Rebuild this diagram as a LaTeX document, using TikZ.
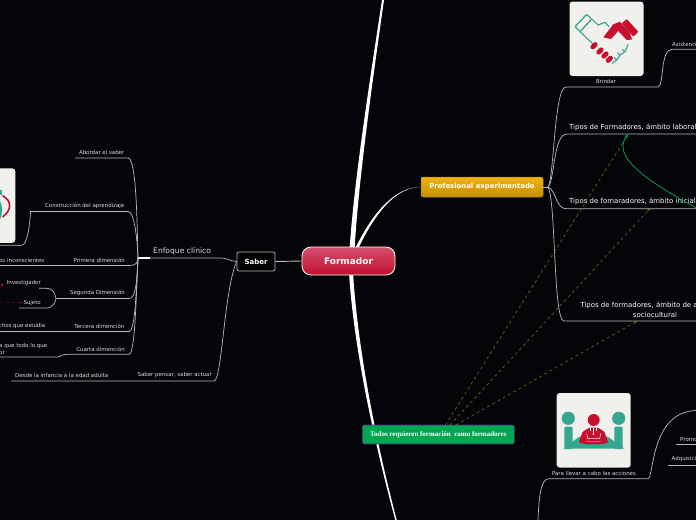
\documentclass[tikz,border=0pt]{standalone}
\usepackage{fontspec}
\setmainfont{DejaVu Sans}
\newfontfamily\seriffont{Liberation Serif}
\usetikzlibrary{arrows.meta}
\definecolor{bgc}{HTML}{030508}
\definecolor{linec}{HTML}{BABABA}
\definecolor{txtc}{HTML}{DCDCDC}
\definecolor{tealc}{HTML}{35A68F}
\definecolor{redc}{HTML}{C8102E}
\definecolor{cardc}{HTML}{F0F0EC}
\definecolor{olivec}{HTML}{6E6E22}
\definecolor{greenc}{HTML}{0B8A4E}
\definecolor{fmtop}{HTML}{D6506E}
\definecolor{fmbot}{HTML}{BE102E}
\definecolor{goldtop}{HTML}{F2B214}
\definecolor{goldbot}{HTML}{C48E00}
\definecolor{goldline}{HTML}{AA8C14}
\definecolor{trgreen}{HTML}{00A651}
\definecolor{trline}{HTML}{642882}
\tikzset{
  x=1pt,y=-1pt,
  small/.style={inner sep=0pt,text=txtc,font=\fontsize{5.45}{7}\selectfont},
  big/.style={inner sep=0pt,text=white,font=\fontsize{6.95}{10}\selectfont},
  conn/.style={draw=linec,line width=0.7pt},
  link/.style={draw=olivec,line width=0.6pt,dash pattern=on 3pt off 3pt,-{Stealth[length=3pt,width=3pt]}},
  card/.style={draw=none,fill=cardc,rounded corners=3pt,minimum width=74pt,minimum height=74.5pt,inner sep=0pt},
  finger/.style={draw=redc,line width=4.8pt,line cap=round},
  handline/.style={draw=tealc,line width=1.1pt,line join=round},
}
\begin{document}
\begin{tikzpicture}
\useasboundingbox (0,0) rectangle (696,520);
\clip (0,0) rectangle (696,520);
\fill[bgc] (0,0) rectangle (696,520);

% trunks (tapered, under the nodes)
\coordinate (tup) at (383,0);
\coordinate (tdn) at (396,520);
\fill[white] (349.5,250) .. controls (353.8,185) and (367.5,95) .. (382,0) -- (384,0) .. controls (370.5,95) and (358.2,185) .. (354.5,250) -- cycle;
\fill[white] (349,272) .. controls (353,340) and (371,430) .. (395.3,520) -- (396.7,520) .. controls (373,430) and (357,340) .. (353,272) -- cycle;
\coordinate (pew) at (421,187);
\fill[white] (354.5,250) .. controls (372,213) and (395,186.7) .. (pew) .. controls (395,187.3) and (374.5,214) .. (357.5,250) -- cycle;

% main nodes
\node[rounded corners=9pt,draw=white,line width=0.8pt,top color=fmtop,bottom color=fmbot,minimum width=93pt,minimum height=28pt,inner sep=0pt,text=white,font=\bfseries\fontsize{9}{11}\selectfont] (fm) at (348.5,261) {Formador};
\node[rounded corners=2pt,draw=linec,line width=0.7pt,fill=black,minimum width=38pt,minimum height=19pt,inner sep=0pt,text=white,font=\bfseries\fontsize{7}{8}\selectfont] (sb) at (256,261.5) {Saber};
\node[rounded corners=2pt,draw=goldline,line width=0.5pt,top color=goldtop,bottom color=goldbot,minimum width=122pt,minimum height=20pt,inner sep=0pt,text=white,font=\bfseries\fontsize{6.9}{8}\selectfont] (pe) at (482,187) {Profesional experimentado};
\node[rounded corners=2pt,draw=trline,line width=0.6pt,fill=trgreen,minimum width=152pt,minimum height=19pt,inner sep=0pt,text=white,font=\seriffont\bfseries\fontsize{7}{8}\selectfont] (tr) at (438.3,434.5) {Todos requieren formación\ \ como formadores};
\draw[draw=linec,line width=0.9pt] (sb.east) -- (fm.west);

% Left side text
\node[big,anchor=west,font=\fontsize{7.6}{9}\selectfont,text=txtc] (ec) at (153,251.5) {Enfoque clínico};
\node[small,anchor=east] (a1) at (124.5,152) {Abordar el saber};
\node[small,anchor=east] (a2) at (124.5,206) {Construcción del aprendizaje};
\node[small,anchor=east] (a3) at (125,260) {Primera dimensión};
\node[small,anchor=east] (a3b) at (44.5,260) {Procesos inconscientes};
\node[small,anchor=east] (a4) at (125,293) {Segunda Dimensión};
\node[small,anchor=east] (a4a) at (41,283) {Investigador};
\node[small,anchor=east] (a4b) at (41,302.5) {Sujeto};
\node[small,anchor=east] (a5) at (124.5,326) {Tercera dimención};
\node[small,anchor=east] (a5b) at (45.5,326) {Hechos que estudia};
\node[small,anchor=east] (a6) at (125,349) {Cuarta dimención};
\node[small,anchor=west,align=left] (a6b) at (-1,348.5) {a que todo lo que\\or};
\node[small,anchor=east] (a7) at (212,375) {Saber pensar, saber actuar};
\node[small,anchor=west] (a7b) at (15,375) {Desde la infancia a la edad adulta};

% Left side connectors
\coordinate (hub) at (138,258);
\coordinate (ecr) at (220,258);
\coordinate (ecm) at (150,258);
\draw[conn,line width=0.7pt] (ecm) -- (ecr) .. controls (228,258) and (231,261.5) .. (sb.west);
\draw[draw=white,line width=1.2pt] (hub) -- (ecm);
\coordinate (l1) at (75,158);
\draw[conn] (l1) -- (128,158) .. controls (136,158) and (137,215) .. (hub);
\coordinate (imgline) at (0,245.2);
\draw[conn] (imgline) -- (22,245.2) .. controls (27,245.2) and (30,225) .. (30.5,211.5) -- (128,211.5) .. controls (134,211.5) and (137,235) .. (hub);
\coordinate (l3) at (0,265.5);
\draw[conn] (l3) -- (130,265.5) .. controls (136,265.5) and (138,262) .. (hub);
\coordinate (b4) at (56,298.5);
\draw[conn] (b4) -- (129,298.5) .. controls (135,298.5) and (137,285) .. (hub);
\coordinate (l4a) at (39,288.3);
\coordinate (l4b) at (19,308);
\draw[conn] (l4a) -- (46,288.3) .. controls (53,288.3) and (55,293) .. (b4);
\draw[conn] (l4b) -- (46,308) .. controls (53,308) and (55,303) .. (b4);
\coordinate (l5) at (0,331.5);
\draw[conn] (l5) -- (129,331.5) .. controls (135,331.5) and (136,295) .. (hub);
\coordinate (l6) at (0,357);
\draw[conn] (l6) -- (58,357) .. controls (62,357) and (60,354.3) .. (68,354.3) -- (129,354.3) .. controls (135,354.3) and (136,300) .. (hub);
\coordinate (l7) at (11,381);
\draw[conn] (l7) -- (214,381) .. controls (222,381) and (224,290) .. (sb.west);

% red links
\coordinate (rs) at (0,302);
\draw[draw=redc!65!black,line width=0.5pt,dash pattern=on 3pt off 3pt,-{Stealth[length=2.5pt,width=2.5pt]}] (rs) -- (a4b.west);
\fill[redc] (1.2,284.3) rectangle (3,286);

% left card
\node[card,anchor=east] (cardL) at (15.5,205.5) {};
\draw[redc,line width=1.6pt] (2.5,195.5) .. controls (12,201) and (12,210) .. (2.5,217);
\fill[tealc] (0,190) rectangle (1.5,195);
\fill[tealc] (0,201) .. controls (3,206) and (2.5,214) .. (0,220) -- cycle;

% right: Profesional branches
\node[card] (c1) at (606.5,38.8) {};
\node[small,anchor=center] (br) at (606,81) {Brindar};
\node[small,anchor=west] (as) at (672,44) {Asistencia};
\node[big,anchor=west] (t1) at (569,127.7) {Tipos de Formadores, ámbito laboral};
\node[big,anchor=west] (t2) at (569,201.7) {Tipos de fomaradores, ámbito inicial};
\node[big,align=center] (t3) at (655,310) {Tipos de formadores, ámbito de animación\\sociocultural};

\coordinate (hr) at (548,187);
\coordinate (r1) at (696,49.3);
\coordinate (r2) at (696,134);
\coordinate (r3) at (696,208.7);
\coordinate (r4) at (696,321);
\draw[conn] (pe.east) -- (hr);
\draw[conn] (hr) .. controls (554,180) and (554,87) .. (566,87) -- (658,87) .. controls (664,87) and (660,49.3) .. (672,49.3) -- (r1);
\draw[conn] (hr) .. controls (555,180) and (553,134) .. (567,134) -- (r2);
\draw[conn] (hr) .. controls (556,190) and (556,208.7) .. (566,208.7) -- (r3);
\draw[conn] (hr) .. controls (556,200) and (553,321) .. (564,321) -- (r4);

% handshake icon
\draw[handline,line width=1.3pt,rounded corners=1pt] (580,31.7) -- (575,26.7) -- (586.7,14.3) -- (591.7,19) -- cycle;
\draw[handline] (591.7,19) -- (598.3,25) -- (605,22.3) -- (609,26.7);
\draw[handline] (580,31.7) -- (593.3,44.3);
\draw[handline] (628.3,44.3) -- (625,51.7) -- (622,49.5) (625,51.7) -- (620,55) -- (617.5,52.5) (620,55) -- (616.7,60) -- (614,57.5) (616.7,60) -- (611.7,63.3);
\fill[redc,rounded corners=0.8pt] (621.7,23.3) -- (626.7,19) -- (638.3,31.7) -- (633.3,36.7) -- cycle;
\fill[redc,line join=round] (603.3,37.3) -- (613.3,24.3) -- (620,21.7) -- (630,33) -- (632,39.5) -- (626.7,40) -- (618.3,31) -- (611,39) -- cycle;
\draw[finger] (592.8,46.9) -- (595.2,44.5);
\draw[finger] (598.8,52.2) -- (601.2,49.8);
\draw[finger] (603.8,56.2) -- (606.2,53.8);
\draw[finger] (608.1,60.5) -- (610.5,58.1);

% right-bottom card
\node[card] (c2) at (593.7,430.3) {};
\node[small] (pl) at (594,473.3) {Para llevar a cabo las acciones};
\node[small,anchor=west] (pr) at (680,439) {Promoción};
\node[small,anchor=west] (ad) at (671.5,459.2) {Adquisición};
\coordinate (pru) at (675.5,444.7);
\coordinate (adu) at (667.5,465);
\coordinate (pre) at (696,444.7);
\coordinate (ade) at (696,465);
\coordinate (be) at (538,520);
\coordinate (bt) at (696,410.5);
\draw[conn] (pru) -- (pre);
\draw[conn] (adu) -- (ade);
\draw[conn] (be) .. controls (539,495) and (541,478.7) .. (549,478.7) -- (648,478.7) .. controls (654,478.7) and (650,412) .. (bt);

% people icon
\fill[tealc] (568.3,418.3) circle (6.6pt);
\fill[tealc] (618.7,418.3) circle (6.6pt);
\fill[tealc,rounded corners=1pt] (564.3,426.7) rectangle (572.7,449);
\fill[tealc,rounded corners=1pt] (614.3,426.7) rectangle (622.7,449);
\fill[tealc] (563.3,448.5) -- (579.3,436.7) -- (607.7,436.7) -- (624.3,448.5) -- cycle;
\fill[redc] (593.7,420) circle (6pt);
\fill[redc,rounded corners=1pt] (578.7,442.5) -- (582.7,431.7) -- (589.3,427.7) -- (598,427.7) -- (604.3,431.7) -- (608.3,442.5) -- (601,444.3) -- (586,444.3) -- cycle;
\draw[white,line width=0.5pt] (593.7,428) -- (593.7,435) (590.7,428) -- (590.7,431) (596.7,428) -- (596.7,431);
\draw[white,line width=0.5pt] (586.7,433.5) -- (587.7,438.5) -- (599.7,438.5) -- (600.7,433.5);
\fill[tealc] (586,441) rectangle (601,442);

% cross links
\coordinate (tt1) at (628,134.5);
\coordinate (tt2) at (650,208.5);
\coordinate (tt3) at (637,321);
\coordinate (gs) at (696,207.7);
\coordinate (tr1) at (445.5,425);
\coordinate (tr2) at (450,425);
\coordinate (tr3) at (456,425);
\draw[link] (tr1) -- (tt1);
\draw[link] (tr2) -- (tt2);
\draw[link] (tr3) -- (tt3);
\draw[draw=greenc,line width=0.9pt,-{Stealth[length=4pt,width=4pt]}] (gs) .. controls (660,188) and (622,165) .. (623,146) .. controls (623.3,141) and (625,138) .. (tt1);
\end{tikzpicture}
\end{document}
